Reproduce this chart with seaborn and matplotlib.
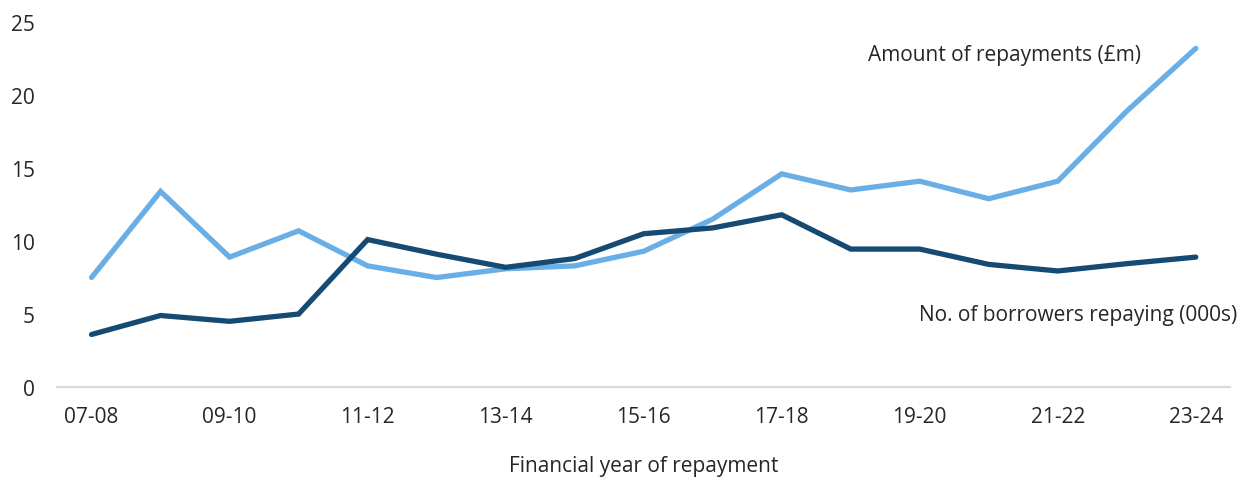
import matplotlib
matplotlib.use("Agg")
import matplotlib.pyplot as plt
import pandas as pd
import seaborn as sns

# Financial years of repayment
years = ["07-08", "08-09", "09-10", "10-11", "11-12", "12-13", "13-14", "14-15", "15-16",
         "16-17", "17-18", "18-19", "19-20", "20-21", "21-22", "22-23", "23-24"]
tick_years = years[::2]

# Amount of repayments (£m)
amount = [7.5, 13.4, 8.9, 10.7, 8.3, 7.5, 8.1, 8.3, 9.3, 11.5, 14.6, 13.5, 14.1, 12.9, 14.1, 18.9, 23.2]
# Number of borrowers repaying (000s)
borrowers = [3.6, 4.9, 4.5, 5.0, 10.1, 9.1, 8.2, 8.8, 10.5, 10.9, 11.8, 9.45, 9.45, 8.4, 7.95, 8.45, 8.9]

series_names = ["Amount of repayments (£m)", "No. of borrowers repaying (000s)"]
colors = ["#6AAEE6", "#154A72"]

df = pd.DataFrame({
    "pos": list(range(len(years))) * 2,
    "value": amount + borrowers,
    "series": [series_names[0]] * len(years) + [series_names[1]] * len(years),
})

sns.set_style("white")
plt.rcParams["font.family"] = ["Open Sans", "DejaVu Sans"]
FS = 15
TXT = "#262626"

fig = plt.figure(figsize=(12.45, 4.81), dpi=100)
ax = fig.add_axes([0.0458, 0.1933, 0.9424, 0.7587])

sns.lineplot(data=df, x="pos", y="value", hue="series", palette=colors,
             linewidth=3.8, legend=False, ax=ax, sort=False)
for line in ax.get_lines():
    line.set_solid_capstyle("round")
    line.set_solid_joinstyle("miter")

ax.set_xlim(-0.5, len(years) - 0.5)
ax.set_ylim(0, 25)
ax.set_yticks(range(0, 26, 5))
ax.set_xticks(range(0, len(years), 2))
ax.set_xticklabels(tick_years)

for side in ["top", "right", "left"]:
    ax.spines[side].set_visible(False)
ax.spines["bottom"].set_color("#D9D9D9")
ax.spines["bottom"].set_linewidth(1.6)

ax.tick_params(axis="both", length=0, labelsize=FS, colors=TXT)
ax.tick_params(axis="y", pad=16)
ax.tick_params(axis="x", pad=14)

ax.set_xlabel("Financial year of repayment", fontsize=FS, color=TXT, labelpad=20)
ax.set_ylabel("")

# Series labels placed beside their lines
ax.text(15.2, 22.75, series_names[0], ha="right", va="center", fontsize=FS, color=TXT)
ax.text(16.6, 5.0, series_names[1], ha="right", va="center", fontsize=FS, color=TXT)

fig.savefig("out.png", dpi=100)
